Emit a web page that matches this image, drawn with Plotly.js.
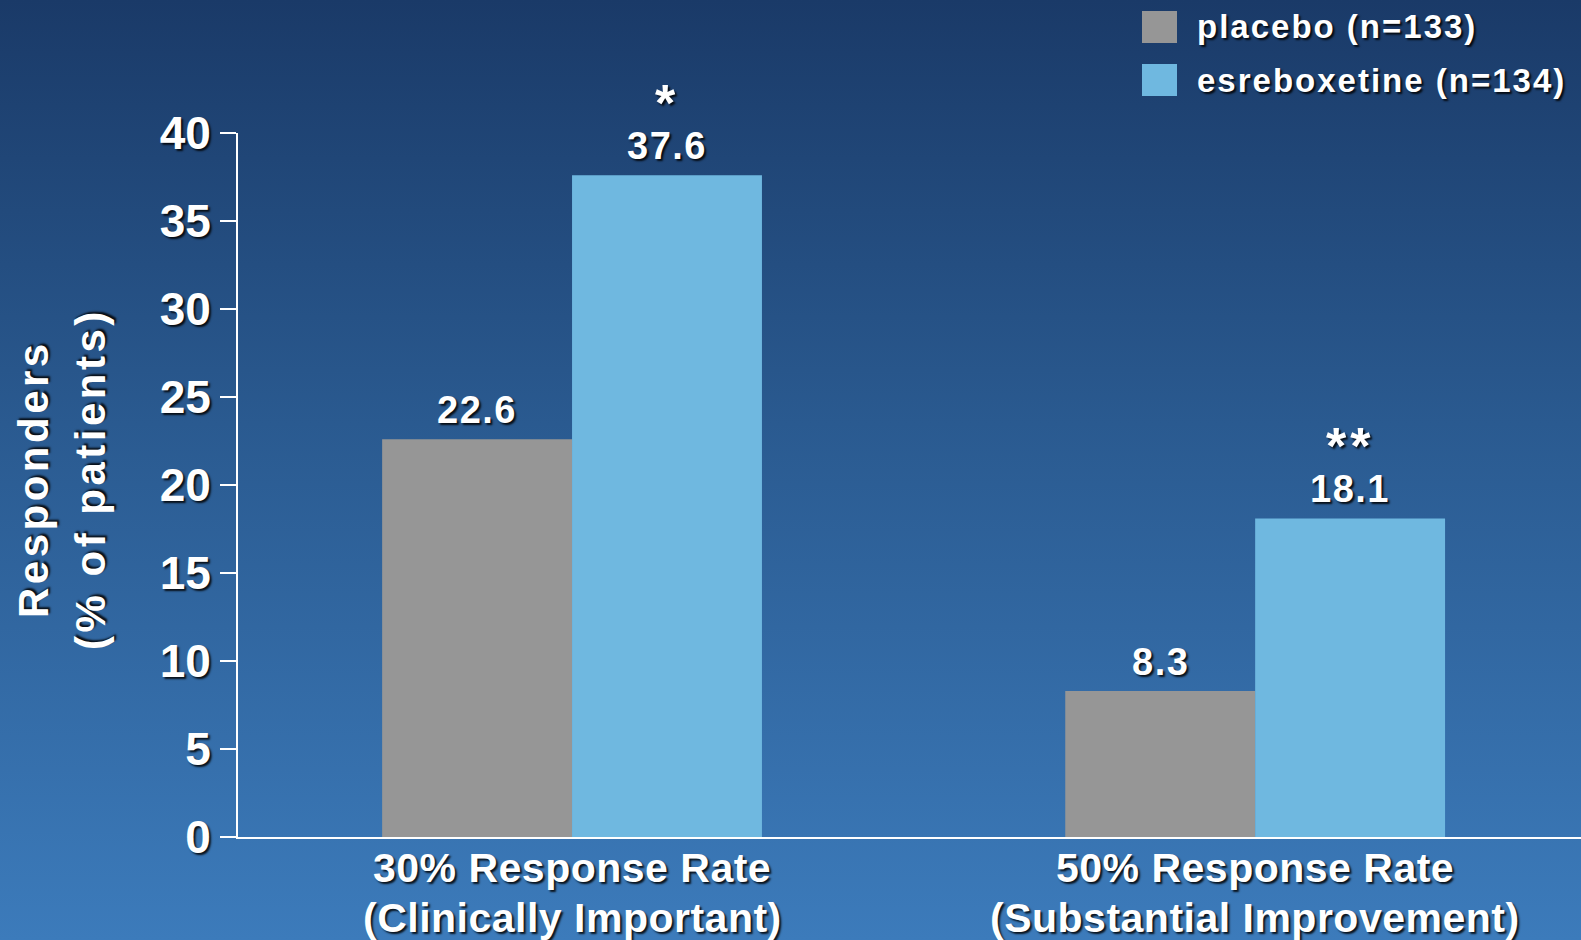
<!DOCTYPE html>
<html>
<head>
<meta charset="utf-8">
<script src="https://cdn.plot.ly/plotly-3.0.1.min.js"></script>
<style>
  html, body { margin: 0; padding: 0; }
  body {
    width: 1581px; height: 940px; overflow: hidden;
    background: linear-gradient(to bottom, #1a3a68 0%, #2a5a90 45%, #3c7bbb 100%);
  }
  #chart { width: 1581px; height: 940px; }
</style>
</head>
<body>
<div id="chart"></div>
<script>
// Response rates by outcome threshold
const categories = [
  ['30% Response Rate', '(Clinically Important)'],
  ['50% Response Rate', '(Substantial Improvement)']
];
const seriesNames = ['placebo (n=133)', 'esreboxetine (n=134)'];
const placebo = [22.6, 8.3];
const esreboxetine = [37.6, 18.1];
const significance = ['*', '**'];
const yTickVals = [0, 5, 10, 15, 20, 25, 30, 35, 40];
const yTitleLines = ['Responders', '(% of patients)'];

// styling
const COLORS = ['#969696', '#6fb8e0'];
const FONT = 'Liberation Sans, Arial, Helvetica, sans-serif';
const SHADOW = '2px 2px 2px rgba(0,0,0,0.85)';
const W = 1581, H = 940;
const M = { l: 238, r: 0, t: 133, b: 103 };
const BAR_W = 0.278;

const font = (size) => ({ family: FONT, size: size, color: '#ffffff', weight: 'bold', shadow: SHADOW });
const spaced = (txt, sp) => '<span style="letter-spacing:' + sp + 'px">' + txt + '</span>';

const xPos = categories.map((_, i) => i);

const traces = [
  {
    type: 'bar', name: seriesNames[0], x: xPos, y: placebo,
    width: BAR_W, offset: -BAR_W, marker: { color: COLORS[0] },
    hoverinfo: 'skip'
  },
  {
    type: 'bar', name: seriesNames[1], x: xPos, y: esreboxetine,
    width: BAR_W, offset: 0, marker: { color: COLORS[1] },
    hoverinfo: 'skip'
  }
];

// pixel -> paper helpers for text placed in the margins
const plotW = W - M.l - M.r, plotH = H - M.t - M.b;
const px = (x) => (x - M.l) / plotW;
const py = (y) => (H - M.b - y) / plotH;

const annotations = [];
const VALUE_SHIFT = 6;

// value labels above the bars
placebo.forEach((v, i) => {
  annotations.push({
    x: i - BAR_W / 2, y: v, xref: 'x', yref: 'y', text: spaced(v.toFixed(1), 1.5),
    showarrow: false, yanchor: 'bottom', yshift: VALUE_SHIFT, font: font(38)
  });
});
esreboxetine.forEach((v, i) => {
  annotations.push({
    x: i + BAR_W / 2, y: v, xref: 'x', yref: 'y', text: spaced(v.toFixed(1), 1.5),
    showarrow: false, yanchor: 'bottom', yshift: VALUE_SHIFT, font: font(38)
  });
  annotations.push({
    x: i + BAR_W / 2, y: v, xref: 'x', yref: 'y', text: spaced(significance[i], 4),
    showarrow: false, yanchor: 'bottom', yshift: VALUE_SHIFT + 35, font: font(52)
  });
});

// two-line category labels under the axis
const catLineY = [868, 918];
categories.forEach((lines, i) => {
  lines.forEach((line, j) => {
    annotations.push({
      x: i, xref: 'x', yref: 'paper', y: py(catLineY[j]),
      xanchor: 'center', yanchor: 'middle', text: spaced(line, 0.5), showarrow: false,
      font: font(41)
    });
  });
});

// rotated y-axis title
const yTitleX = [33, 90];
yTitleLines.forEach((line, j) => {
  annotations.push({
    xref: 'paper', yref: 'paper', x: px(yTitleX[j]), y: py(479),
    xanchor: 'center', yanchor: 'middle', textangle: -90,
    text: spaced(line, 3.5), showarrow: false, font: font(42)
  });
});

// legend
const legendRows = [27, 80];
const shapes = [];
seriesNames.forEach((name, i) => {
  const cy = legendRows[i];
  shapes.push({
    type: 'rect', xref: 'paper', yref: 'paper',
    x0: px(1142), x1: px(1177), y0: py(cy + 16), y1: py(cy - 16),
    fillcolor: COLORS[i], line: { width: 0 }
  });
  annotations.push({
    xref: 'paper', yref: 'paper', x: px(1195), y: py(cy),
    xanchor: 'left', yanchor: 'middle', text: spaced(name, 2), showarrow: false,
    font: font(33)
  });
});

const layout = {
  width: W, height: H,
  margin: M,
  paper_bgcolor: 'rgba(0,0,0,0)',
  plot_bgcolor: 'rgba(0,0,0,0)',
  showlegend: false,
  barmode: 'overlay',
  font: font(40),
  xaxis: {
    range: [-0.489, 1.477],
    tickvals: xPos, showticklabels: false,
    ticks: '', showgrid: false, zeroline: false,
    showline: true, linecolor: '#ffffff', linewidth: 2
  },
  yaxis: {
    range: [0, 40], tickvals: yTickVals,
    ticks: 'outside', ticklen: 16, tickwidth: 2, tickcolor: '#ffffff',
    showgrid: false, zeroline: false,
    showline: true, linecolor: '#ffffff', linewidth: 2,
    tickfont: font(46), ticklabelstandoff: 0
  },
  annotations: annotations,
  shapes: shapes
};

Plotly.newPlot('chart', traces, layout, { displayModeBar: false, staticPlot: true });
</script>
</body>
</html>
